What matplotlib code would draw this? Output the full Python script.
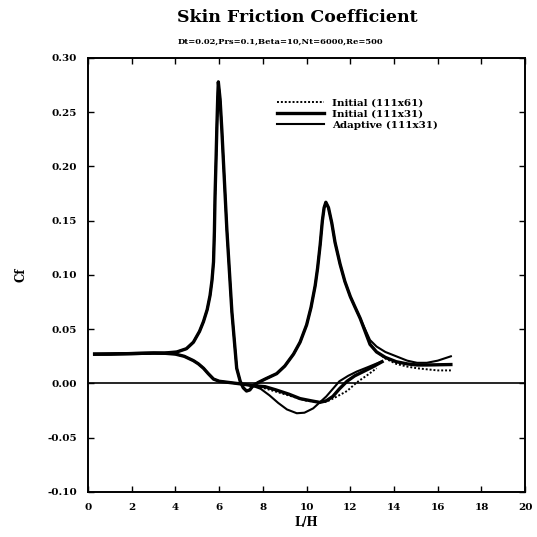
import numpy as np
import matplotlib
matplotlib.use("Agg")
import matplotlib.pyplot as plt

# upper branch (the two peaks), shared by all runs up to x=12.45
xa_common = [0.3, 1, 2, 3, 3.5, 4.06, 4.5, 4.82, 5.1, 5.28, 5.45, 5.58, 5.67,
             5.74, 5.78, 5.81, 5.86, 5.89, 5.93, 5.96, 6.04, 6.12, 6.35, 6.58,
             6.8, 6.96, 7.1, 7.25, 7.4, 7.55, 7.8, 8.1, 8.63, 9.0, 9.4, 9.7,
             10.0, 10.2, 10.39, 10.5, 10.62, 10.72, 10.8, 10.88, 11.0, 11.15,
             11.3, 11.53, 11.75, 12.0, 12.2, 12.45]
ya_common = [0.027, 0.027, 0.0275, 0.028, 0.028, 0.029, 0.032, 0.038, 0.048,
             0.057, 0.068, 0.081, 0.095, 0.112, 0.140, 0.173, 0.210, 0.234,
             0.262, 0.278, 0.262, 0.234, 0.142, 0.066, 0.014, 0.002, -0.004,
             -0.007, -0.006, -0.002, 0.001, 0.004, 0.009, 0.016, 0.027, 0.038,
             0.054, 0.070, 0.090, 0.106, 0.128, 0.150, 0.162, 0.167, 0.162,
             0.148, 0.130, 0.110, 0.094, 0.080, 0.071, 0.060]
xa_tail = [12.9, 13.2, 13.6, 14.1, 14.6, 15.05, 15.5, 16.0, 16.6]
ya_tail_61 = [0.036, 0.029, 0.023, 0.018, 0.0155, 0.014, 0.013, 0.012, 0.012]
ya_tail_31 = [0.036, 0.029, 0.024, 0.020, 0.018, 0.017, 0.017, 0.0172, 0.0174]
ya_tail_ad = [0.040, 0.034, 0.029, 0.025, 0.021, 0.019, 0.019, 0.021, 0.025]

# lower branch, shared part up to x=7.5
xb_common = [0.3, 2, 3, 3.5, 4.0, 4.4, 4.82, 5.05, 5.28, 5.5, 5.74, 6.0, 6.4,
             6.8, 7.2, 7.5]
yb_common = [0.027, 0.0275, 0.028, 0.0278, 0.027, 0.025, 0.021, 0.018, 0.014,
             0.009, 0.004, 0.002, 0.001, 0.0, -0.001, -0.002]
xb_61 = [8.0, 8.5, 9.0, 9.5, 10.0, 10.5, 10.9, 11.3, 11.85, 12.3, 12.8, 13.2]
yb_61 = [-0.004, -0.007, -0.010, -0.013, -0.016, -0.017, -0.017, -0.013,
         -0.007, 0.001, 0.008, 0.014]
xb_31 = [8.1, 8.6, 9.2, 9.7, 10.2, 10.6, 10.9, 11.2, 11.5, 11.85, 12.2, 12.6,
         13.0, 13.45]
yb_31 = [-0.003, -0.006, -0.010, -0.014, -0.016, -0.0175, -0.016, -0.012,
         -0.005, 0.002, 0.007, 0.011, 0.015, 0.020]
xb_ad = [7.9, 8.3, 8.7, 9.1, 9.55, 9.9, 10.3, 10.9, 11.5, 11.9, 12.3, 12.8,
         13.4]
yb_ad = [-0.005, -0.011, -0.018, -0.024, -0.0275, -0.027, -0.023, -0.012,
         0.002, 0.007, 0.011, 0.015, 0.020]

xticks = [0, 2, 4, 6, 8, 10, 12, 14, 16, 18, 20]
yticks = [-0.10, -0.05, 0.00, 0.05, 0.10, 0.15, 0.20, 0.25, 0.30]

fnt = "DejaVu Serif"
fig = plt.figure(figsize=(5.37, 5.37), dpi=100)
ax = fig.add_axes([0.164, 0.084, 0.814, 0.808])

ax.axhline(0.0, color="black", lw=1.2)

runs = [
    ("Initial (111x61)", ya_tail_61, xb_61, yb_61, dict(lw=1.4, ls=(0, (1, 1)))),
    ("Initial (111x31)", ya_tail_31, xb_31, yb_31, dict(lw=2.4, ls="-")),
    ("Adaptive (111x31)", ya_tail_ad, xb_ad, yb_ad, dict(lw=1.5, ls="-")),
]
for name, tail, xb, yb, st in runs:
    xa = xa_common + xa_tail
    ya = ya_common + tail
    ax.plot(xa, ya, color="black", label=name, solid_joinstyle="round", **st)
    ax.plot(xb_common + xb, yb_common + yb, color="black",
            solid_joinstyle="round", **st)

ax.set_xlim(0, 20)
ax.set_ylim(-0.10, 0.30)
ax.set_xticks(xticks)
ax.set_yticks(yticks)
ax.set_xticklabels([str(t) for t in xticks], fontfamily=fnt, fontweight="bold", fontsize=7.5)
ax.set_yticklabels(["%.2f" % t for t in yticks], fontfamily=fnt, fontweight="bold", fontsize=7.5)
ax.tick_params(direction="in", top=True, right=True, length=4, width=1, pad=8)
for s in ax.spines.values():
    s.set_linewidth(1.4)

ax.set_xlabel("L/H", fontfamily=fnt, fontweight="bold", fontsize=8.5, labelpad=3)
ax.set_ylabel("Cf", fontfamily=fnt, fontweight="bold", fontsize=8.5, labelpad=14)

fig.text(0.553, 0.967, "Skin Friction Coefficient", ha="center", va="center",
         fontfamily=fnt, fontweight="bold", fontsize=12.5)
fig.text(0.522, 0.923, "Dt=0.02,Prs=0.1,Beta=10,Nt=6000,Re=500", ha="center",
         va="center", fontfamily=fnt, fontweight="bold", fontsize=6)

leg = ax.legend(loc="upper left", bbox_to_anchor=(0.41, 0.928), frameon=False,
                handlelength=4.5, labelspacing=0.15,
                prop=dict(family=fnt, weight="bold", size=7.5))

fig.savefig("out.png", dpi=100)
